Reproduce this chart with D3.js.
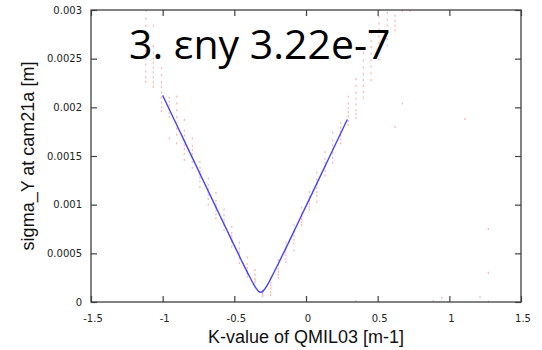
<!DOCTYPE html>
<html>
<head>
<meta charset="utf-8">
<script src="https://cdn.jsdelivr.net/npm/d3@7/dist/d3.min.js"></script>
<style>
  html, body { margin: 0; padding: 0; background: #fff; }
  svg { display: block; }
</style>
</head>
<body>
<svg id="chart" width="542" height="350"></svg>
<script>
// Beam size scan: measured sigma_Y vs quadrupole K-value, with fitted curve

const titleText = "3. \u03b5ny 3.22e-7";
const xLabel = "K-value of QMIL03 [m-1]";
const yLabel = "sigma_Y at cam21a [m]";

const xTicks = [-1.5, -1, -0.5, 0, 0.5, 1, 1.5];
const xTickLabels = ["-1.5", "-1", "-0.5", "0", "0.5", "1", "1.5"];
const yTicks = [0, 0.0005, 0.001, 0.0015, 0.002, 0.0025, 0.003];
const yTickLabels = ["0", "0.0005", "0.001", "0.0015", "0.002", "0.0025", "0.003"];

// K-value of each scan step
const scanK = [
  -1.118, -1.065, -1.008, -0.954, -0.902, -0.849, -0.793, -0.740, -0.682, -0.628,
  -0.572, -0.518, -0.465, -0.410, -0.356, -0.302, -0.246, -0.193, -0.140, -0.084,
  -0.030, 0.023, 0.075, 0.133, 0.186, 0.242, 0.295, 0.349, 0.400, 0.454,
  0.509, 0.567, 0.621, 0.672
];

// measured sigma_Y [m] of the shots taken at each scan step
const scanSigma = [
  [0.00299, 0.00291, 0.00284, 0.00266, 0.00258, 0.00250, 0.00244, 0.00237, 0.00231, 0.00226],
  [0.00284, 0.00263, 0.00256, 0.00250, 0.00246, 0.00241, 0.00236, 0.00231, 0.00226, 0.00221],
  [0.00240, 0.00233, 0.00226, 0.00221, 0.00215, 0.00210, 0.00205, 0.00200, 0.00196],
  [0.00210, 0.00206, 0.00202, 0.00198, 0.00194, 0.00190, 0.00168],
  [0.00211, 0.00204, 0.00197, 0.00190, 0.00184, 0.00178, 0.00172, 0.00163],
  [0.00187, 0.00176, 0.00171, 0.00166, 0.00161, 0.00157, 0.00152, 0.00146],
  [0.00168, 0.00160, 0.00156, 0.00152, 0.00148, 0.00144, 0.00138],
  [0.00144, 0.00138, 0.00134, 0.00131, 0.00128, 0.00124, 0.00118],
  [0.00127, 0.00120, 0.00116, 0.00113, 0.00110, 0.00106, 0.00100],
  [0.00112, 0.00104, 0.00100, 0.00097, 0.00094, 0.00090, 0.00086],
  [0.00095, 0.00089, 0.00085, 0.00082, 0.00079, 0.00074],
  [0.00077, 0.00071, 0.00068, 0.00065, 0.00062, 0.00057],
  [0.00061, 0.00055, 0.00051, 0.00048, 0.00045, 0.00040],
  [0.00046, 0.00039, 0.00035, 0.00032, 0.00029, 0.00026],
  [0.00033, 0.00028, 0.00024, 0.00022, 0.00020],
  [0.00012, 0.00010, 0.00008, 0.00006],
  [0.00020, 0.00017, 0.00014, 0.00010, 0.00007],
  [0.00043, 0.00038, 0.00034, 0.00031, 0.00028, 0.00025],
  [0.00061, 0.00055, 0.00051, 0.00048, 0.00044, 0.00041],
  [0.00079, 0.00072, 0.00068, 0.00064, 0.00060, 0.00053],
  [0.00097, 0.00091, 0.00088, 0.00085, 0.00082, 0.00079],
  [0.00113, 0.00108, 0.00104, 0.00101, 0.00098, 0.00095],
  [0.00133, 0.00126, 0.00121, 0.00117, 0.00113, 0.00109, 0.00103],
  [0.00154, 0.00147, 0.00143, 0.00139, 0.00135, 0.00130],
  [0.00174, 0.00166, 0.00161, 0.00157, 0.00153, 0.00148, 0.00143],
  [0.00184, 0.00179, 0.00175, 0.00171, 0.00167, 0.00163],
  [0.00211, 0.00204, 0.00199, 0.00195, 0.00191, 0.00186, 0.00182],
  [0.00229, 0.00222, 0.00215, 0.00209, 0.00203, 0.00197, 0.00193, 0.00189],
  [0.00256, 0.00248, 0.00241, 0.00234, 0.00228, 0.00222, 0.00216, 0.00210],
  [0.00276, 0.00268, 0.00262, 0.00255, 0.00248, 0.00242, 0.00235, 0.00228],
  [0.00300, 0.00293, 0.00286, 0.00280, 0.00273, 0.00266, 0.00258, 0.00249],
  [0.00297, 0.00290, 0.00284, 0.00277, 0.00270, 0.00264],
  [0.00294, 0.00289, 0.00284, 0.00279, 0.00180],
  [0.00299, 0.00204]
];

// stray shots outside the scan columns
const strayK     = [0.726, 1.109, 1.272, 1.272, 1.272, 1.214, 0.947, 0.888, 0.347];
const straySigma = [0.00299, 0.00188, 0.00075, 0.00030, 0.000005, 0.00005, 0.00004, 0.00001, 0.00001];

// fitted beam size curve
const fitK = [
  -1.0, -0.9, -0.8, -0.7, -0.6, -0.5, -0.45, -0.4, -0.37, -0.35, -0.33, -0.316,
  -0.30, -0.28, -0.26, -0.23, -0.2, -0.1, 0.0, 0.1, 0.2, 0.288
];
const fitSigma = [
  0.002123, 0.001813, 0.001504, 0.001195, 0.000886, 0.000579, 0.000427, 0.000279,
  0.000195, 0.000145, 0.000109, 0.000100, 0.000112, 0.000150, 0.000200, 0.000285,
  0.000373, 0.000677, 0.000985, 0.001293, 0.001603, 0.001875
];

const svg = d3.select("#chart");
const margin = { left: 91, top: 10, right: 21, bottom: 48 };
const W = 542, H = 350;
const x = d3.scaleLinear().domain([-1.5, 1.5]).range([margin.left, W - margin.right]);
const y = d3.scaleLinear().domain([0, 0.003]).range([H - margin.bottom, margin.top]);

svg.append("defs").append("clipPath").attr("id", "plotClip")
  .append("rect")
  .attr("x", x(-1.5)).attr("y", y(0.003))
  .attr("width", x(1.5) - x(-1.5)).attr("height", y(0) - y(0.003));

// measurement points
const pts = [];
scanK.forEach((k, i) => scanSigma[i].forEach(s => pts.push([k, s])));
strayK.forEach((k, i) => pts.push([k, straySigma[i]]));

const plot = svg.append("g").attr("clip-path", "url(#plotClip)");
plot.selectAll("rect.pt").data(pts).enter().append("rect")
  .attr("class", "pt")
  .attr("x", d => x(d[0]) - 0.6)
  .attr("y", d => y(d[1]) - 1)
  .attr("width", 1.2)
  .attr("height", 2)
  .attr("fill", "#ff2020")
  .attr("fill-opacity", 0.35);

// fit curve
const line = d3.line()
  .x((d, i) => x(fitK[i]))
  .y((d, i) => y(fitSigma[i]))
  .curve(d3.curveMonotoneX);
plot.append("path")
  .datum(fitK)
  .attr("d", line)
  .attr("fill", "none")
  .attr("stroke", "#4444ff")
  .attr("stroke-width", 1.4);

// axes with inward ticks on all four sides
const tickLen = 6;
const axisColor = "#404040";
const tickFont = "DejaVu Sans, Verdana, sans-serif";

const axBottom = d3.axisBottom(x).tickValues(xTicks).tickSizeInner(-tickLen).tickSizeOuter(0)
  .tickFormat((d, i) => xTickLabels[i]).tickPadding(13);
const gB = svg.append("g").attr("transform", `translate(0,${y(0)})`).call(axBottom);
const axTop = d3.axisTop(x).tickValues(xTicks).tickSizeInner(-tickLen).tickSizeOuter(0).tickFormat("");
const gT = svg.append("g").attr("transform", `translate(0,${y(0.003)})`).call(axTop);
const axLeft = d3.axisLeft(y).tickValues(yTicks).tickSizeInner(-tickLen).tickSizeOuter(0)
  .tickFormat((d, i) => yTickLabels[i]).tickPadding(9);
const gL = svg.append("g").attr("transform", `translate(${x(-1.5)},0)`).call(axLeft);
const axRight = d3.axisRight(y).tickValues(yTicks).tickSizeInner(-tickLen).tickSizeOuter(0).tickFormat("");
const gR = svg.append("g").attr("transform", `translate(${x(1.5)},0)`).call(axRight);

[gB, gT, gL, gR].forEach(g => {
  g.select(".domain").remove();
  g.selectAll(".tick line").attr("stroke", axisColor).attr("stroke-width", 1.2);
  g.selectAll(".tick text")
    .attr("fill", "#222")
    .style("font-family", tickFont)
    .style("font-size", "10px");
});
gB.selectAll(".tick text").attr("dx", 1.5);

// plot frame
svg.append("rect")
  .attr("x", x(-1.5)).attr("y", y(0.003))
  .attr("width", x(1.5) - x(-1.5)).attr("height", y(0) - y(0.003))
  .attr("fill", "none").attr("stroke", axisColor).attr("stroke-width", 1.3);

// axis titles
svg.append("text")
  .attr("x", (x(-1.5) + x(1.5)) / 2).attr("y", 343)
  .attr("text-anchor", "middle")
  .style("font-family", "Liberation Sans, Arial, sans-serif")
  .style("font-size", "18px")
  .attr("fill", "#111")
  .text(xLabel);

svg.append("text")
  .attr("transform", `translate(34,${(y(0) + y(0.003)) / 2}) rotate(-90)`)
  .attr("text-anchor", "middle")
  .style("font-family", "Liberation Sans, Arial, sans-serif")
  .style("font-size", "18px")
  .attr("fill", "#111")
  .text(yLabel);

// title
svg.append("text")
  .attr("x", 129).attr("y", 59)
  .style("font-family", "Open Sans, sans-serif")
  .style("font-size", "41px")
  .attr("fill", "#000")
  .text(titleText);
</script>
</body>
</html>
